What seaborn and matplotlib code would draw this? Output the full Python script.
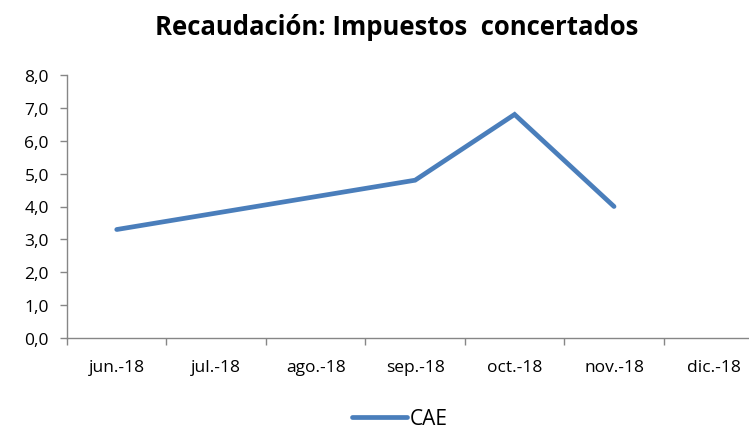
import matplotlib
matplotlib.use("Agg")
import matplotlib.pyplot as plt
import seaborn as sns
import numpy as np
import pandas as pd

months = ["jun.-18", "jul.-18", "ago.-18", "sep.-18", "oct.-18", "nov.-18", "dic.-18"]
cae = [3.3, 3.8, 4.3, 4.8, 6.8, 4.0, np.nan]
yticks = [0, 1, 2, 3, 4, 5, 6, 7, 8]

sns.set_theme(style="white")
plt.rcParams['font.family'] = ['Open Sans', 'DejaVu Sans']
plt.rcParams['text.color'] = 'black'
plt.rcParams['xtick.color'] = '#868686'
plt.rcParams['ytick.color'] = '#868686'
plt.rcParams['xtick.labelcolor'] = 'black'
plt.rcParams['ytick.labelcolor'] = 'black'

df = pd.DataFrame({"pos": range(len(months)), "CAE": cae, "mes": months})

fig = plt.figure(figsize=(7.49, 4.31), dpi=100)
ax = fig.add_axes([67/749, 92/431, 682/749, 263/431])
sns.lineplot(data=df, x="pos", y="CAE", ax=ax, color="#4A7EBB", linewidth=3.4,
             label="CAE", solid_capstyle="round", solid_joinstyle="miter")

ax.set_yticks(yticks)
ax.set_yticklabels([f"{v:.1f}".replace(".", ",") for v in yticks], fontsize=12.5)
ax.set_xticks(range(len(months)))
ax.set_xticklabels(months, fontsize=12.5)
ax.set_xticks(np.arange(-0.5, 7, 1), minor=True)
ax.set_xlim(-0.5, 6.357)
ax.set_ylim(0, 8)
ax.tick_params(axis="x", which="major", length=0, pad=15)
ax.tick_params(axis="x", which="minor", length=5, width=1, direction="out", bottom=True)
ax.tick_params(axis="y", length=5, width=1, direction="out", left=True, pad=8)
ax.set_xlabel("")
ax.set_ylabel("")
for s in ["top", "right"]:
    ax.spines[s].set_visible(False)
for s in ["left", "bottom"]:
    ax.spines[s].set_color("#868686")
    ax.spines[s].set_linewidth(1)

fig.text(397/749, 1 - 28/431, "Recaudación: Impuestos  concertados", ha="center", va="center",
         fontsize=18.5, fontweight="bold", color="black")

leg = ax.legend(loc="center", bbox_to_anchor=(400/749, 1 - 420/431), bbox_transform=fig.transFigure,
                frameon=False, fontsize=15, handlelength=2.6, handletextpad=0.15)
leg.get_lines()[0].set_linewidth(3.4)
for t in leg.get_texts():
    t.set_color("black")

fig.savefig("out.png", dpi=100)
